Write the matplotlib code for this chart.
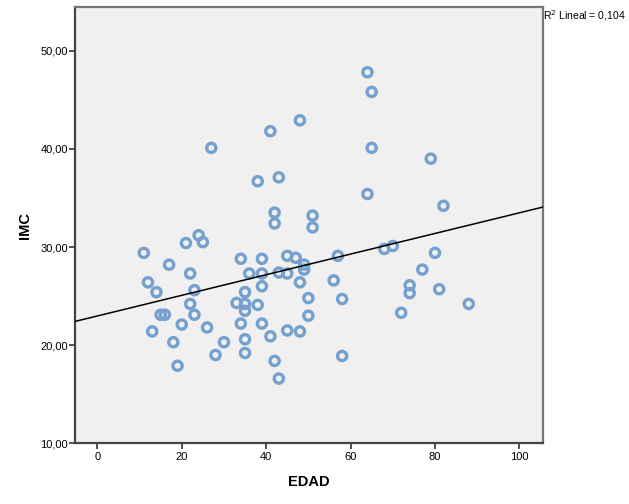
import matplotlib
matplotlib.use('Agg')
import matplotlib.pyplot as plt
import numpy as np

# EDAD (age) and IMC (BMI)
edad = [11, 12, 13, 14, 15, 16, 17, 18, 19, 20,
        21, 22, 22, 23, 23, 24, 25, 26, 27, 28,
        30, 33, 34, 34, 35, 35, 35, 35, 35, 36,
        38, 38, 39, 39, 39, 39, 41, 41, 42, 42,
        42, 43, 43, 43, 45, 45, 45, 47, 48, 48,
        48, 49, 49, 50, 50, 51, 51, 56, 57, 58,
        58, 64, 64, 65, 65, 68, 70, 72, 74, 74,
        77, 79, 80, 81, 82, 88]
imc = [29.4, 26.4, 21.4, 25.4, 23.1, 23.1, 28.2, 20.3, 17.9, 22.1,
       30.4, 27.3, 24.2, 25.6, 23.1, 31.2, 30.5, 21.8, 40.1, 19.0,
       20.3, 24.3, 28.8, 22.2, 25.4, 24.2, 23.5, 20.6, 19.2, 27.3,
       24.1, 36.7, 28.8, 27.3, 26.0, 22.2, 20.9, 41.8, 33.5, 32.4,
       18.4, 37.1, 27.4, 16.6, 29.1, 27.3, 21.5, 28.9, 42.9, 26.4,
       21.4, 28.2, 27.7, 24.8, 23.0, 33.2, 32.0, 26.6, 29.1, 24.7,
       18.9, 47.8, 35.4, 45.8, 40.1, 29.8, 30.1, 23.3, 26.1, 25.3,
       27.7, 39.0, 29.4, 25.7, 34.2, 24.2]

xticks = [0, 20, 40, 60, 80, 100]
yticks = [10, 20, 30, 40, 50]
ytick_labels = ['10,00', '20,00', '30,00', '40,00', '50,00']
r2_label = 'R$^2$ Lineal = 0,104'

plt.rcParams['font.family'] = ['Liberation Sans', 'DejaVu Sans']

fig = plt.figure(figsize=(6.29, 5.04), dpi=100)
ax = fig.add_axes([0.1192, 0.1204, 0.7441, 0.8657])
ax.set_facecolor('#f0f0f0')

ax.scatter(edad, imc, s=44, facecolors='none', edgecolors='#76a0ce',
           linewidths=2.4, zorder=3)

xlim = (-5.3, 105.6)
slope, intercept = np.polyfit(edad, imc, 1)
xs = np.array(xlim)
ax.plot(xs, intercept + slope * xs, color='black', lw=1.1, zorder=4)

ax.set_xlim(*xlim)
ax.set_ylim(10, 54.45)
ax.set_xticks(xticks)
ax.set_xticklabels([str(t) for t in xticks])
ax.set_yticks(yticks)
ax.set_yticklabels(ytick_labels)
ax.tick_params(direction='out', length=4.5, width=1.2, color='#333333',
               labelsize=8, labelcolor='black')
ax.tick_params(axis='y', pad=0.5)
ax.tick_params(axis='x', pad=2)

for side in ['left', 'bottom']:
    ax.spines[side].set_color('#444444')
    ax.spines[side].set_linewidth(1.6)
for side in ['right', 'top']:
    ax.spines[side].set_color('#777777')
    ax.spines[side].set_linewidth(1.6)

ax.set_xlabel('EDAD', fontsize=10.5, fontweight='bold')
ax.set_ylabel('IMC', fontsize=10.5, fontweight='bold')
ax.xaxis.set_label_coords(0.5, -0.073)
ax.yaxis.set_label_coords(-0.092, 0.5)

fig.text(0.8625, 0.970, r2_label, fontsize=7.5, ha='left', va='center')

fig.savefig('out.png', dpi=100)
